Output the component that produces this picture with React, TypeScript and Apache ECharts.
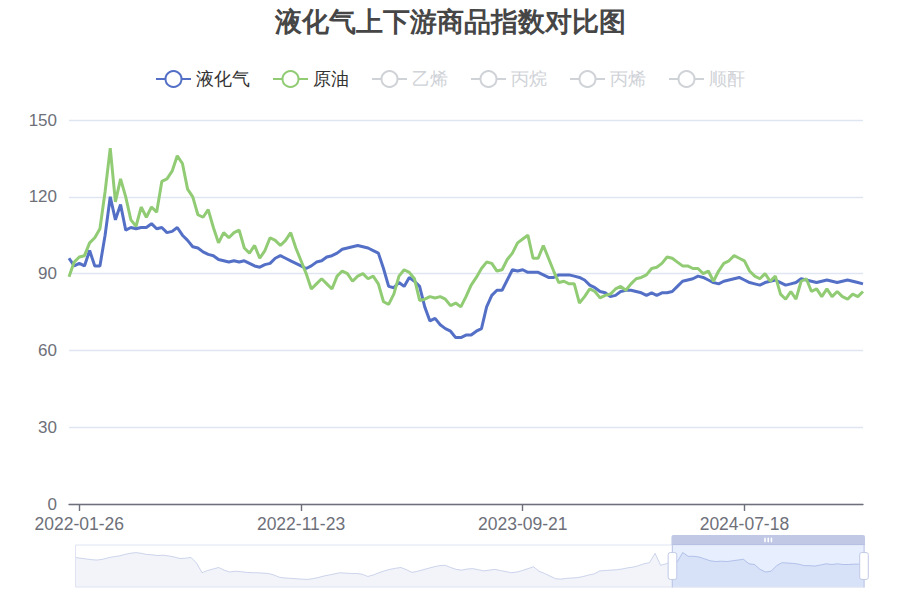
import React, { useEffect, useRef } from "react";
import * as echarts from "echarts";

const TITLE = "液化气上下游商品指数对比图";
const SERIES_NAMES = ["液化气", "原油", "乙烯", "丙烷", "丙烯", "顺酐"];
const HIDDEN_SERIES = ["乙烯", "丙烷", "丙烯", "顺酐"];
const LABEL_DATES = ["2022-01-26", "2022-11-23", "2023-09-21", "2024-07-18"];
const LABEL_INDEX = [2, 45, 88, 131];
const WEEK_COUNT = 155;
const MONTH_START_YEAR = 2013;
const MONTH_END_YEAR = 2024;

// 液化气 weekly index (main view, 2022-01 → 2024-12)
const LPG = [
  96, 93, 94, 93, 99, 93, 93, 105, 120, 111,
  117, 107, 108, 107.5, 108, 108, 109.5, 107.5, 108, 106,
  106.5, 108, 105, 103, 100.5, 100, 98.5, 97.5, 97, 95.5,
  95, 94.5, 95, 94.5, 95, 94, 93, 92.5, 93.5, 94,
  96, 97, 96, 95, 94, 93, 92, 93, 94.5, 95,
  96.5, 97, 98, 99.5, 100, 100.5, 101, 100.5, 100, 99,
  98, 92, 85, 84.5, 86.5, 85, 88.5, 87, 85, 77,
  71.5, 72.5, 70, 68.5, 67.5, 65, 65, 66, 66, 67.5,
  68.5, 77, 81.5, 83.5, 83.5, 87.5, 91.5, 91, 91.5, 90.5,
  90.5, 90.5, 89.5, 88.5, 88.5, 89.5, 89.5, 89.5, 89, 88.5,
  87.5, 85.5, 84.5, 83, 82.5, 81, 81.5, 83, 83.5, 83.5,
  83, 82.5, 81.5, 82.5, 81.5, 82.5, 82.5, 83, 85, 87,
  87.5, 88, 89, 88.5, 87.5, 86.5, 86, 87, 87.5, 88,
  88.5, 87.5, 86.5, 86, 85.5, 86.5, 87, 87.5, 86.5, 85.5,
  86, 86.5, 88, 87.5, 87, 86.5, 87, 87.5, 87, 86.5,
  87, 87.5, 87, 86.5, 86,
];

// 原油 weekly index (main view)
const CRUDE = [
  88.8, 94.5, 96.5, 97, 102, 104, 107.5, 122, 139, 118,
  127, 120, 111, 108.5, 116, 112, 116, 114, 126, 127,
  130, 136, 133, 123, 120, 113, 112, 115, 108, 102,
  106, 104, 106, 107, 100, 98, 101, 96, 99, 104,
  103, 101, 103, 106, 100, 95, 90, 84, 86, 88,
  86, 84, 89, 91, 90, 87, 89, 90, 88, 89,
  86, 79, 78, 82, 89, 91.5, 90.5, 88, 79.5, 80,
  81, 80.5, 81, 80, 77.5, 78.5, 77, 81, 85.5, 88.5,
  92, 94.5, 94, 91, 91.5, 95.5, 98, 102, 103.5, 105,
  96, 96, 101, 96, 91, 86.5, 87, 86, 86, 78.5,
  81, 84, 83, 80.5, 81.5, 82, 84, 85, 83.5, 86,
  88, 88.5, 89.5, 92, 92.5, 94, 96.5, 96, 94.5, 93,
  93, 92, 92, 90, 91, 87, 91, 94, 95, 97,
  96, 95, 91, 89, 88, 90, 87, 89, 82, 80,
  83, 80, 87, 88, 83, 84, 81, 84, 81, 83,
  81, 80, 82, 81, 83,
];

// 液化气 monthly index over the full history (2013-01 → 2024-12), used by the zoom slider
const LPG_MONTHLY = [
  105, 103, 101, 99, 98, 100, 104, 107, 109, 113, 116, 118,
  116, 113, 112, 110, 111, 109, 106, 102, 103, 105, 90, 64,
  70, 74, 78, 71, 66, 68, 67, 65, 64, 64, 63, 62,
  58, 52, 50, 49, 48, 47, 46, 48, 51, 55, 58, 61,
  64, 63, 62, 62, 60, 54, 58, 64, 69, 73, 76, 78,
  72, 65, 68, 72, 76, 80, 83, 84, 78, 73, 71, 74,
  75, 72, 69, 71, 73, 70, 67, 64, 66, 70, 75, 80,
  68, 62, 55, 48, 47, 49, 50, 51, 54, 58, 61, 69,
  70, 71, 72, 74, 77, 79, 83, 88, 91, 116, 84, 88,
  94, 93, 118, 108, 108, 106, 101, 96, 94, 95, 94, 96,
  98, 100, 88, 86, 73, 66, 68, 83, 91, 90, 89, 87,
  83, 83, 82, 85, 88, 86, 88, 86, 86, 87, 87, 86,
];

function addDays(iso: string, n: number): string {
  const d = new Date(iso + "T00:00:00Z");
  d.setUTCDate(d.getUTCDate() + n);
  return d.toISOString().slice(0, 10);
}

function buildWeeklyDates(count: number): string[] {
  const out: string[] = [];
  for (let i = 0; i < count; i++) {
    let k = 0;
    for (let j = 0; j < LABEL_INDEX.length; j++) if (LABEL_INDEX[j] <= i) k = j;
    out.push(addDays(LABEL_DATES[k], (i - LABEL_INDEX[k]) * 7));
  }
  return out;
}

function buildMonths(): string[] {
  const out: string[] = [];
  for (let y = MONTH_START_YEAR; y <= MONTH_END_YEAR; y++) {
    for (let m = 1; m <= 12; m++) out.push(`${y}-${m < 10 ? "0" + m : m}`);
  }
  return out;
}

const DATES = buildWeeklyDates(WEEK_COUNT);
const MONTHS = buildMonths();

export default function App() {
  const ref = useRef<HTMLDivElement>(null);

  useEffect(() => {
    if (!ref.current) return;
    const chart = echarts.init(ref.current, undefined, { renderer: "svg" });
    const showLabel = (_idx: number, value: string) => LABEL_DATES.includes(value);
    const selected: Record<string, boolean> = {};
    HIDDEN_SERIES.forEach((n) => (selected[n] = false));

    const mainSeries = SERIES_NAMES.map((name) => ({
      name,
      type: "line",
      xAxisIndex: 0,
      yAxisIndex: 0,
      data: name === "液化气" ? LPG : name === "原油" ? CRUDE : [],
      symbol: "emptyCircle",
      showSymbol: false,
      lineStyle: { width: 3 },
    }));

    chart.setOption({
      animation: false,
      color: ["#5470c6", "#91cc75", "#fac858", "#ee6666", "#73c0de", "#3ba272"],
      title: {
        text: TITLE,
        left: "center",
        top: 3,
        textStyle: { fontSize: 27, fontWeight: "bold", color: "#464646" },
      },
      legend: {
        data: SERIES_NAMES,
        selected,
        top: 65,
        left: "center",
        itemWidth: 35,
        itemHeight: 20,
        itemGap: 22,
        textStyle: { fontSize: 18, color: "#333" },
      },
      grid: { left: 69, right: 37, top: 120, bottom: 96 },
      xAxis: [
        {
          type: "category",
          data: DATES,
          boundaryGap: false,
          axisLine: { lineStyle: { color: "#6e7079", width: 1.4 } },
          axisTick: { interval: showLabel, length: 7, lineStyle: { color: "#6e7079", width: 1.4 } },
          axisLabel: { interval: showLabel, fontSize: 17.5, color: "#6e7079", margin: 11 },
        },
        { type: "category", data: MONTHS, show: false, boundaryGap: false },
      ],
      yAxis: [
        {
          type: "value",
          min: 0,
          max: 150,
          interval: 30,
          axisLabel: { fontSize: 17, color: "#6e7079", margin: 12 },
          splitLine: { lineStyle: { color: "#e0e6f1", width: 1.4 } },
        },
        { type: "value", show: false, scale: true },
      ],
      dataZoom: [
        {
          type: "slider",
          xAxisIndex: 1,
          start: 75.5,
          end: 100,
          left: 71,
          right: 39,
          top: 535,
          height: 43,
          moveHandleSize: 10,
          filterMode: "none",
        },
      ],
      series: [
        ...mainSeries,
        {
          name: "液化气(月)",
          type: "line",
          xAxisIndex: 1,
          yAxisIndex: 1,
          data: LPG_MONTHLY,
          showSymbol: false,
          silent: true,
          lineStyle: { opacity: 0 },
          z: 0,
        },
      ],
    });
    return () => chart.dispose();
  }, []);

  return <div ref={ref} style={{ width: 900, height: 600, position: "absolute", left: 0, top: 0 }} />;
}
